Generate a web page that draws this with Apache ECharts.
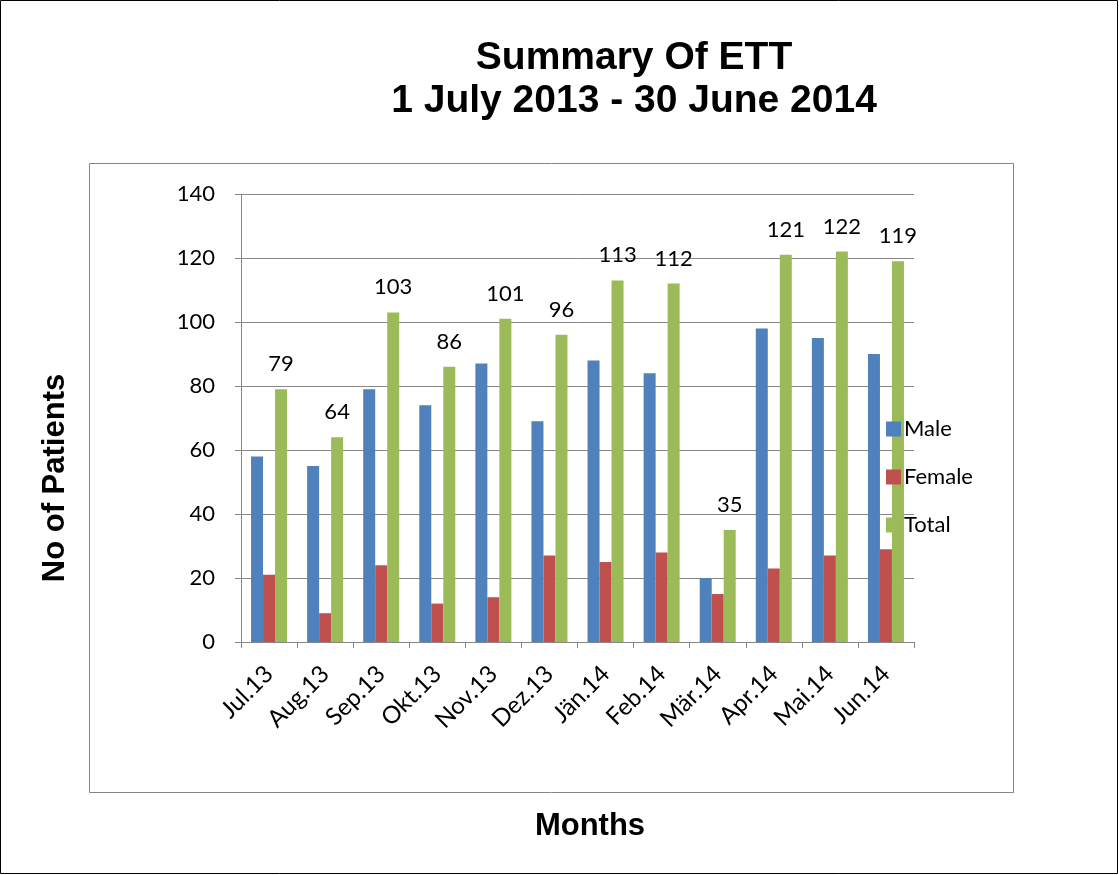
<!DOCTYPE html>
<html>
<head>
<meta charset="utf-8">
<script src="https://cdn.jsdelivr.net/npm/echarts@6/dist/echarts.min.js"></script>
<style>
  html, body { margin: 0; padding: 0; background: #fff; }
  #chart { width: 1119px; height: 875px; }
</style>
</head>
<body>
<div id="chart"></div>
<script>
  var months = ['Jul.13', 'Aug.13', 'Sep.13', 'Okt.13', 'Nov.13', 'Dez.13', 'Jän.14', 'Feb.14', 'Mär.14', 'Apr.14', 'Mai.14', 'Jun.14'];
  var male = [58, 55, 79, 74, 87, 69, 88, 84, 20, 98, 95, 90];
  var female = [21, 9, 24, 12, 14, 27, 25, 28, 15, 23, 27, 29];
  var total = [79, 64, 103, 86, 101, 96, 113, 112, 35, 121, 122, 119];

  var font = 'Lato, "Open Sans", sans-serif';
  var boldFont = 'Arial, "Liberation Sans", sans-serif';
  var myChart = echarts.init(document.getElementById('chart'));

  myChart.setOption({
    animation: false,
    title: {
      text: 'Summary Of ETT\n1 July 2013 - 30 June 2014',
      left: 629,
      top: 32,
      textAlign: 'center',
      textStyle: {
        fontFamily: boldFont,
        fontSize: 39,
        fontWeight: 'bold',
        color: '#000',
        lineHeight: 43
      }
    },
    graphic: [
      {
        type: 'rect',
        shape: { x: 0.5, y: 0.5, width: 1117, height: 873 },
        style: { fill: 'none', stroke: '#000', lineWidth: 1 }
      },
      {
        type: 'rect',
        shape: { x: 89.5, y: 163.5, width: 924, height: 629 },
        style: { fill: 'none', stroke: '#868686', lineWidth: 1 }
      },
      {
        type: 'text',
        x: 55,
        y: 478,
        rotation: Math.PI / 2,
        style: {
          text: 'No of Patients',
          fontFamily: boldFont,
          fontSize: 31,
          fontWeight: 'bold',
          fill: '#000',
          align: 'center',
          verticalAlign: 'middle'
        }
      },
      {
        type: 'text',
        x: 590,
        y: 826,
        style: {
          text: 'Months',
          fontFamily: boldFont,
          fontSize: 31,
          fontWeight: 'bold',
          fill: '#000',
          align: 'center',
          verticalAlign: 'middle'
        }
      }
    ],
    legend: {
      orient: 'vertical',
      left: 881,
      top: 413,
      itemWidth: 15,
      itemHeight: 15,
      itemGap: 26,
      icon: 'rect',
      textStyle: { fontFamily: font, fontSize: 22, color: '#000', padding: [0, 0, 0, -2] },
      data: ['Male', 'Female', 'Total']
    },
    grid: {
      left: 241,
      right: 1119 - 914,
      top: 194,
      bottom: 875 - 642,
      containLabel: false
    },
    xAxis: {
      type: 'category',
      data: months,
      axisLine: { lineStyle: { color: '#868686', width: 1 } },
      axisTick: { show: true, length: 6, lineStyle: { color: '#868686' } },
      axisLabel: {
        interval: 0,
        rotate: 45,
        margin: 28,
        fontFamily: font,
        fontSize: 24,
        color: '#000'
      }
    },
    yAxis: {
      type: 'value',
      min: 0,
      max: 140,
      interval: 20,
      axisLine: { show: true, lineStyle: { color: '#868686', width: 1 } },
      axisTick: { show: true, length: 6, lineStyle: { color: '#868686' } },
      splitLine: { lineStyle: { color: '#868686', width: 1 } },
      axisLabel: {
        margin: 26,
        fontFamily: font,
        fontSize: 22,
        color: '#000'
      }
    },
    series: [
      {
        name: 'Male',
        type: 'bar',
        barWidth: 12,
        barGap: '0%',
        itemStyle: { color: '#4F81BD' },
        data: male
      },
      {
        name: 'Female',
        type: 'bar',
        barWidth: 12,
        barGap: '0%',
        itemStyle: { color: '#C0504D' },
        data: female
      },
      {
        name: 'Total',
        type: 'bar',
        barWidth: 12,
        barGap: '0%',
        itemStyle: { color: '#9BBB59' },
        label: {
          show: true,
          position: 'top',
          distance: 14,
          fontFamily: font,
          fontSize: 22,
          color: '#000'
        },
        data: total
      }
    ]
  });
</script>
</body>
</html>
